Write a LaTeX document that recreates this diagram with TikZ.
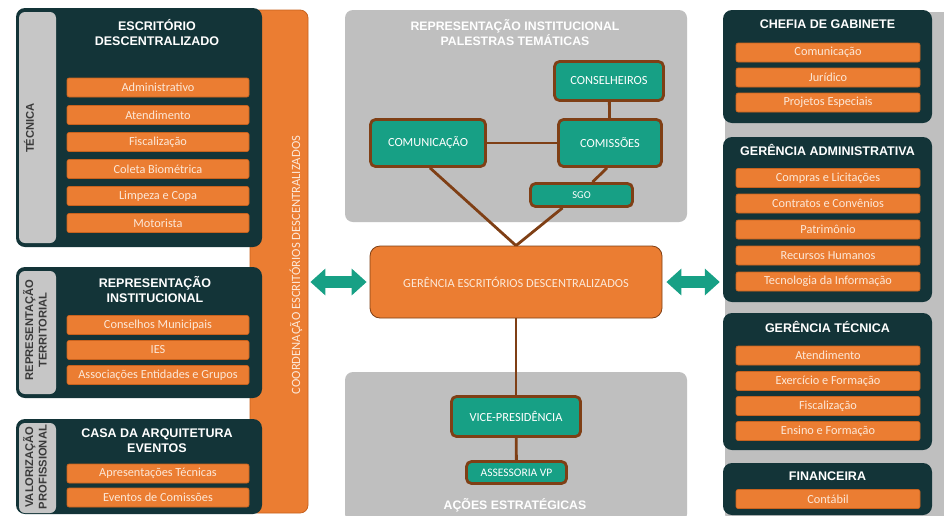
\documentclass[tikz,border=0pt]{standalone}
\usepackage{fontspec}
\setmainfont{Carlito}
\newfontfamily\hfont{Liberation Sans}
\usetikzlibrary{arrows.meta,calc}
\definecolor{navy}{HTML}{133438}
\definecolor{org}{HTML}{EB7D32}
\definecolor{orgdark}{HTML}{C8621E}
\definecolor{grayp}{HTML}{BFBFBF}
\definecolor{graystrip}{HTML}{C6C6C6}
\definecolor{tealc}{HTML}{17A085}
\definecolor{brownc}{HTML}{7F3F15}
\definecolor{cream}{HTML}{FCE8D8}
\definecolor{labgray}{HTML}{3A3A3A}
\tikzset{
 item/.style={fill=org, draw=orgdark, line width=0.6pt, rounded corners=2pt, minimum height=19pt, inner sep=0pt, text=cream, font=\fontsize{12.3}{13}\selectfont},
 litem/.style={item, minimum width=182pt},
 ritem/.style={item, minimum width=184pt},
 ptitle/.style={text=white, font=\hfont\bfseries\fontsize{12.5}{15}\selectfont, align=center, inner sep=0pt},
 panel/.style={fill=navy, rounded corners=9pt, inner sep=0pt},
 strip/.style={fill=graystrip, rounded corners=6pt, inner sep=0pt},
 side/.style={rotate=90, text=labgray, font=\hfont\bfseries\fontsize{11.2}{13.5}\selectfont, align=center, inner sep=0pt},
 tbox/.style={fill=tealc, draw=brownc, line width=2.8pt, rounded corners=5pt, text=white, font=\fontsize{12.4}{13}\selectfont, inner sep=0pt},
 link/.style={draw=brownc, line width=2.8pt},
 garrow/.style={draw=tealc, line width=12pt, {Triangle[length=15pt,width=26pt]}-{Triangle[length=15pt,width=26pt]}},
 gpanel/.style={fill=grayp, rounded corners=8pt, inner sep=0pt}
}
\begin{document}
\begin{tikzpicture}[x=1pt,y=-1pt]
\clip (0,0) rectangle (944,515);
\fill[white] (0,0) rectangle (944,515);
% orange column
\node[fill=org, draw=orgdark, line width=0.8pt, rounded corners=8pt, minimum width=58pt, minimum height=503pt, inner sep=0pt] (col) at (279,261.5) {};
\node[rotate=90, text=cream, font=\fontsize{12.6}{13}\selectfont, inner sep=0pt] (coltxt) at (296,265) {COORDENAÇÃO ESCRITÓRIOS DESCENTRALIZADOS};
% left panel 1
\node[panel, minimum width=246pt, minimum height=239pt] (p1) at (139,127.5) {};
\node[strip, minimum width=37pt, minimum height=231pt] (s1) at (37.5,127.5) {};
\node[side] (s1t) at (29,128) {TÉCNICA};
\node[ptitle] (p1t) at (157,32.5) {ESCRITÓRIO\\DESCENTRALIZADO};
\node[litem] (a1) at (158,87.5) {Administrativo};
\node[litem] (a2) at (158,115) {Atendimento};
\node[litem] (a3) at (158,142) {Fiscalização};
\node[litem] (a4) at (158,169) {Coleta Biométrica};
\node[litem] (a5) at (158,196) {Limpeza e Copa};
\node[litem] (a6) at (158,223) {Motorista};
% left panel 2
\node[panel, minimum width=246pt, minimum height=131pt] (p2) at (139,332.5) {};
\node[strip, minimum width=37pt, minimum height=123pt] (s2) at (37.5,332.5) {};
\node[side] (s2t) at (35,330) {REPRESENTAÇÃO\\TERRITORIAL};
\node[ptitle] (p2t) at (155,289.5) {REPRESENTAÇÃO\\INSTITUCIONAL};
\node[litem] (b1) at (158,325) {Conselhos Municipais};
\node[litem] (b2) at (158,350) {IES};
\node[litem] (b3) at (158,375) {Associações Entidades e Grupos};
% left panel 3
\node[panel, minimum width=246pt, minimum height=95pt] (p3) at (139,466.5) {};
\node[strip, minimum width=37pt, minimum height=90pt] (s3) at (37.5,468) {};
\node[side] (s3t) at (35,467) {VALORIZAÇÃO\\PROFISSIONAL};
\node[ptitle] (p3t) at (157,440.5) {CASA DA ARQUITETURA\\EVENTOS};
\node[litem] (c1) at (158,473.5) {Apresentações Técnicas};
\node[litem] (c2) at (158,497.5) {Eventos de Comissões};
% center panels
\node[gpanel, minimum width=342pt, minimum height=212pt] (gtop) at (516,116) {};
\node[ptitle, font=\hfont\bfseries\fontsize{12.3}{15}\selectfont] (gtopt) at (515,32.5) {REPRESENTAÇÃO INSTITUCIONAL\\PALESTRAS TEMÁTICAS};
\node[gpanel, minimum width=342pt, minimum height=150pt] (gbot) at (516,447) {};
\node[ptitle, font=\hfont\bfseries\fontsize{12.3}{15}\selectfont] (gbott) at (515,505) {AÇÕES ESTRATÉGICAS};
\node[tbox, minimum width=109pt, minimum height=39pt] (cons) at (609,81) {CONSELHEIROS};
\node[tbox, minimum width=115pt, minimum height=47pt] (comu) at (428,143) {COMUNICAÇÃO};
\node[tbox, minimum width=103pt, minimum height=47pt] (comi) at (610,143) {COMISSÕES};
\node[tbox, minimum width=102pt, minimum height=23pt, font=\fontsize{10.5}{11}\selectfont] (sgo) at (581.5,195) {SGO};
\node[fill=org, draw=brownc, line width=0.8pt, rounded corners=10pt, minimum width=292pt, minimum height=72pt, text=cream, font=\fontsize{12.4}{13}\selectfont, inner sep=0pt] (ger) at (516,282) {GERÊNCIA ESCRITÓRIOS DESCENTRALIZADOS};
\node[tbox, minimum width=129pt, minimum height=40pt] (vp) at (516,416.5) {VICE-PRESIDÊNCIA};
\node[tbox, minimum width=100pt, minimum height=22pt, font=\fontsize{11.5}{12}\selectfont] (ass) at (516.5,472.5) {ASSESSORIA VP};
% links
\draw[link] (cons) -- (comi);
\draw[link] (comu) -- (comi);
\draw[link] ([xshift=-3pt]comi.south) -- ([xshift=11pt]sgo.north);
\draw[link] ([xshift=-19pt]sgo.south) -- (ger.north);
\draw[link] ([xshift=2pt]comu.south) -- (ger.north);
\draw[link] (ger) -- (vp);
\draw[link] (vp) -- (ass);
% right side
\node[fill=grayp, rounded corners=8pt, minimum width=230pt, minimum height=510pt, inner sep=0pt] (rbg) at (840,267) {};
\node[panel, minimum width=209pt, minimum height=113pt] (r1) at (827.5,66.5) {};
\node[ptitle] (r1t) at (827.5,24) {CHEFIA DE GABINETE};
\node[ritem] (d1) at (828,52.5) {Comunicação};
\node[ritem] (d2) at (828,77.5) {Jurídico};
\node[ritem] (d3) at (828,102.5) {Projetos Especiais};
\node[panel, minimum width=209pt, minimum height=165pt] (r2) at (827.5,219.5) {};
\node[ptitle] (r2t) at (827.5,150) {GERÊNCIA ADMINISTRATIVA};
\node[ritem] (e1) at (828,178) {Compras e Licitações};
\node[ritem] (e2) at (828,203.5) {Contratos e Convênios};
\node[ritem] (e3) at (828,229.5) {Patrimônio};
\node[ritem] (e4) at (828,255.5) {Recursos Humanos};
\node[ritem] (e5) at (828,281.5) {Tecnologia da Informação};
\node[panel, minimum width=209pt, minimum height=137pt] (r3) at (827.5,381.5) {};
\node[ptitle] (r3t) at (827.5,327) {GERÊNCIA TÉCNICA};
\node[ritem] (f1) at (828,355.5) {Atendimento};
\node[ritem] (f2) at (828,381) {Exercício e Formação};
\node[ritem] (f3) at (828,406) {Fiscalização};
\node[ritem] (f4) at (828,431) {Ensino e Formação};
\node[panel, minimum width=209pt, minimum height=52pt] (r4) at (827.5,489) {};
\node[ptitle] (r4t) at (827.5,476) {FINANCEIRA};
\node[ritem] (g1) at (828,499) {Contábil};
% arrows
\draw[garrow] ([xshift=2pt]col.east |- ger.west) -- ([xshift=-3pt]ger.west);
\draw[garrow] ([xshift=4pt]ger.east) -- ([xshift=-3pt]r2.west |- ger.east);
\end{tikzpicture}
\end{document}
